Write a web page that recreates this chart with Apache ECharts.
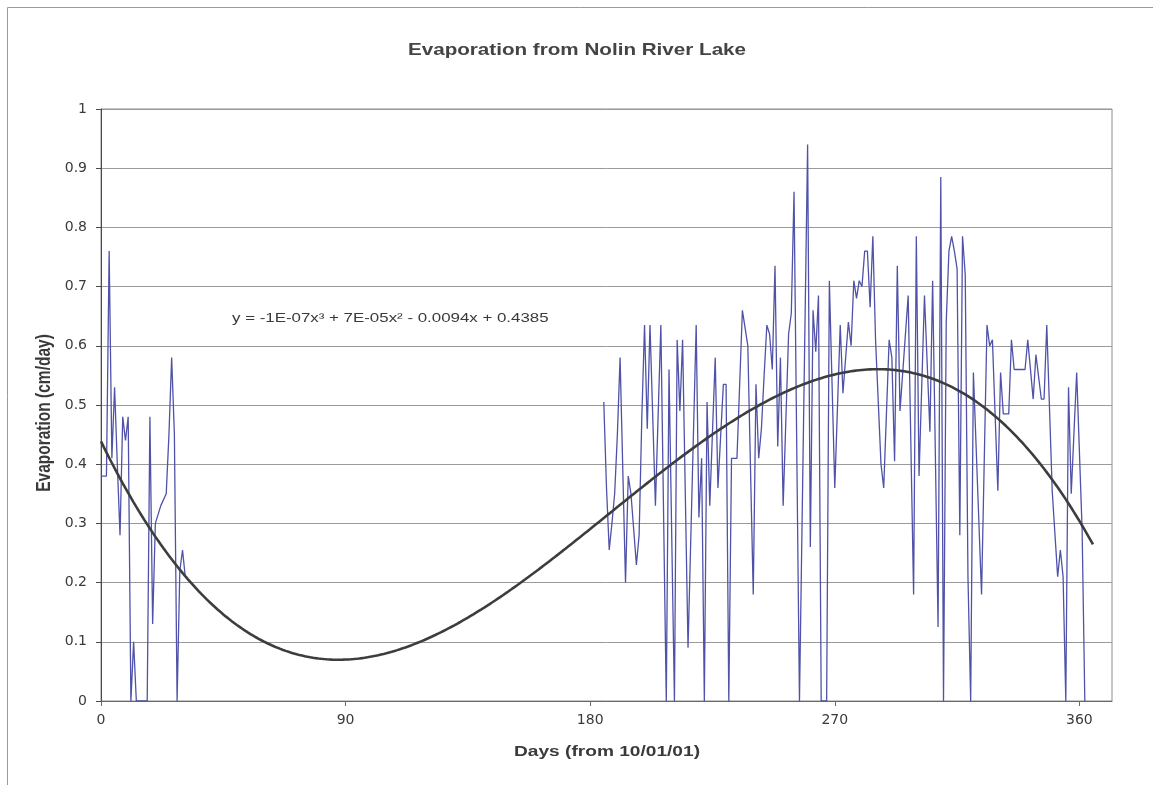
<!DOCTYPE html>
<html>
<head>
<meta charset="utf-8">
<title>Evaporation from Nolin River Lake</title>
<script src="https://cdn.jsdelivr.net/npm/echarts@6/dist/echarts.min.js"></script>
<style>
  html, body { margin: 0; padding: 0; background: #ffffff; }
  #chart { width: 1153px; height: 785px; }
</style>
</head>
<body>
<div id="chart"></div>
<script>
// Daily lake evaporation (cm/day), days counted from 10/01/01.
// Fall record (days 0-31)
const fallDays = [0, 1, 2, 3, 4, 5, 6, 7, 8, 9, 10, 11, 12, 13, 17, 18, 19, 20, 22, 24, 25, 26, 27, 28, 29, 30, 31];
const fallEvap = [0.38, 0.38, 0.38, 0.76, 0.41, 0.53, 0.40, 0.28, 0.48, 0.44, 0.48, 0, 0.10, 0, 0, 0.48, 0.13, 0.30, 0.33, 0.35, 0.45, 0.58, 0.45, 0, 0.22, 0.255, 0.21];

// Spring/summer record (days 185-362)
const springDays = [185, 186, 187, 188, 189, 190, 191, 193, 194, 195, 197, 198, 199, 200, 201, 202, 204, 206, 208, 209,
  211, 212, 213, 214, 216, 219, 220, 221, 222, 223, 224, 226, 227, 229, 230, 231, 232, 234, 236, 238,
  240, 241, 242, 243, 244, 245, 246, 247, 248, 249, 250, 251, 253, 254, 255, 257, 260, 261, 262, 263,
  264, 265, 267, 268, 270, 272, 273, 275, 276, 277, 278, 279, 280, 281, 282, 283, 284, 285, 287, 288,
  290, 291, 292, 293, 294, 297, 299, 300, 301, 303, 305, 306, 308, 309, 310, 311, 312, 313, 314, 315,
  316, 317, 318, 319, 320, 321, 324, 326, 327, 328, 330, 331, 332, 334, 335, 336, 340, 341, 343, 344,
  346, 347, 348, 350, 352, 353, 354, 355, 356, 357, 359, 361, 362];
const springEvap = [0.505, 0.36, 0.255, 0.30, 0.35, 0.45, 0.58, 0.20, 0.38, 0.35, 0.23, 0.28, 0.48, 0.635, 0.46, 0.635, 0.33, 0.635, 0, 0.56,
  0, 0.61, 0.49, 0.61, 0.09, 0.635, 0.31, 0.41, 0, 0.505, 0.33, 0.58, 0.36, 0.535, 0.535, 0, 0.41, 0.41, 0.66, 0.60,
  0.18, 0.535, 0.41, 0.46, 0.55, 0.635, 0.62, 0.56, 0.735, 0.43, 0.58, 0.33, 0.62, 0.655, 0.86, 0, 0.94, 0.26, 0.66, 0.59,
  0.685, 0, 0, 0.71, 0.36, 0.635, 0.52, 0.64, 0.60, 0.71, 0.68, 0.71, 0.70, 0.76, 0.76, 0.665, 0.785, 0.61, 0.40, 0.36,
  0.61, 0.58, 0.405, 0.735, 0.49, 0.685, 0.18, 0.785, 0.38, 0.685, 0.455, 0.71, 0.125, 0.885, 0, 0.64, 0.76, 0.785, 0.76, 0.73,
  0.28, 0.785, 0.72, 0.21, 0, 0.555, 0.18, 0.635, 0.60, 0.61, 0.355, 0.555, 0.485, 0.485, 0.61, 0.56, 0.56, 0.61, 0.51, 0.585,
  0.51, 0.51, 0.635, 0.355, 0.21, 0.255, 0.21, 0, 0.53, 0.35, 0.555, 0.29, 0];

// Cubic trendline fitted to the record: y = a*x^3 + b*x^2 + c*x + d
const trendCoefs = [-1.2546e-7, 7.024e-5, -0.0094, 0.4385];
const trendRange = [0, 365];

// Axis ticks
const xTicks = [0, 90, 180, 270, 360];
const yTicks = [0, 0.1, 0.2, 0.3, 0.4, 0.5, 0.6, 0.7, 0.8, 0.9, 1];

const evapData = fallDays.map((d, i) => [d, fallEvap[i]])
  .concat([[100, '-']])
  .concat(springDays.map((d, i) => [d, springEvap[i]]));

const trendData = [];
for (let x = trendRange[0]; x <= trendRange[1]; x++) {
  const [a, b, c, d] = trendCoefs;
  trendData.push([x, ((a * x + b) * x + c) * x + d]);
}

// Trendline equation text in spreadsheet style
function coefText(v) {
  const m = Math.abs(v);
  if (m < 0.001) {
    const [mant, exp] = m.toExponential(0).split('e');
    const e = parseInt(exp, 10);
    return mant + 'E' + (e < 0 ? '-' : '+') + String(Math.abs(e)).padStart(2, '0');
  }
  return String(parseFloat(m.toFixed(4)));
}
function signText(v, first) {
  if (first) return v < 0 ? '-' : '';
  return v < 0 ? ' - ' : ' + ';
}
const powers = ['x\u00B3', 'x\u00B2', 'x', ''];
let eqText = 'y = ';
trendCoefs.forEach((v, i) => {
  eqText += signText(v, i === 0) + coefText(v) + powers[i];
});

const chart = echarts.init(document.getElementById('chart'), null, { renderer: 'canvas' });

const axisFont = '"DejaVu Sans", sans-serif';
const labelFont = '"Liberation Sans", Arial, sans-serif';

chart.setOption({
  animation: false,
  backgroundColor: '#ffffff',
  grid: {
    left: 101, top: 109, width: 1011, height: 592,
    show: true, borderColor: '#8c8c8c', borderWidth: 1, backgroundColor: 'transparent'
  },
  xAxis: {
    type: 'value',
    min: 0, max: 372, interval: 90,
    axisLine: { show: true, lineStyle: { color: '#6a6a6a', width: 1 } },
    axisTick: { show: true, length: 5, inside: false, customValues: xTicks, lineStyle: { color: '#6a6a6a' } },
    splitLine: { show: false },
    axisLabel: {
      margin: 12,
      color: '#3a3a3a',
      fontFamily: axisFont,
      fontSize: 14,
      customValues: xTicks,
      formatter: v => (xTicks.indexOf(v) >= 0 ? String(v) : '')
    }
  },
  yAxis: {
    type: 'value',
    min: 0, max: 1, interval: 0.1,
    axisLine: { show: true, lineStyle: { color: '#4a4a4a', width: 1 } },
    axisTick: { show: true, length: 5, inside: false, lineStyle: { color: '#4a4a4a' } },
    splitLine: { show: true, lineStyle: { color: '#9a9a9a', width: 1 } },
    axisLabel: {
      margin: 14,
      color: '#3a3a3a',
      fontFamily: axisFont,
      fontSize: 14,
      formatter: v => {
        const t = yTicks.find(k => Math.abs(k - v) < 1e-9);
        return t === undefined ? '' : String(t);
      }
    }
  },
  series: [
    {
      name: 'Evaporation',
      type: 'line',
      data: evapData,
      showSymbol: false,
      connectNulls: false,
      lineStyle: { color: '#4f52a8', width: 1.3 },
      z: 2
    },
    {
      name: 'Poly. (Evaporation)',
      type: 'line',
      data: trendData,
      showSymbol: false,
      smooth: false,
      lineStyle: { color: '#3d3d3d', width: 2.6 },
      z: 3
    }
  ],
  graphic: [
    {
      type: 'rect',
      shape: { x: 7.5, y: 7.5, width: 1200, height: 820 },
      style: { fill: 'none', stroke: '#9a9a9a', lineWidth: 1 },
      silent: true, z: -1
    },
    {
      type: 'text',
      x: 577, y: 50, scaleX: 1.25,
      style: {
        text: 'Evaporation from Nolin River Lake',
        align: 'center', verticalAlign: 'middle',
        font: 'bold 16.5px ' + labelFont, fill: '#444444'
      }
    },
    {
      type: 'text',
      x: 607, y: 752, scaleX: 1.25,
      style: {
        text: 'Days (from 10/01/01)',
        align: 'center', verticalAlign: 'middle',
        font: 'bold 15.3px ' + labelFont, fill: '#3a3a3a'
      }
    },
    {
      type: 'text',
      x: 45, y: 413, rotation: Math.PI / 2, scaleY: 1.25,
      style: {
        text: 'Evaporation (cm/day)',
        align: 'center', verticalAlign: 'middle',
        font: 'bold 15.5px ' + labelFont, fill: '#3a3a3a'
      }
    },
    {
      type: 'text',
      x: 232, y: 318, scaleX: 1.25,
      style: {
        text: eqText,
        align: 'left', verticalAlign: 'middle',
        font: '13.5px ' + labelFont, fill: '#3a3a3a'
      }
    }
  ]
});
</script>
</body>
</html>
